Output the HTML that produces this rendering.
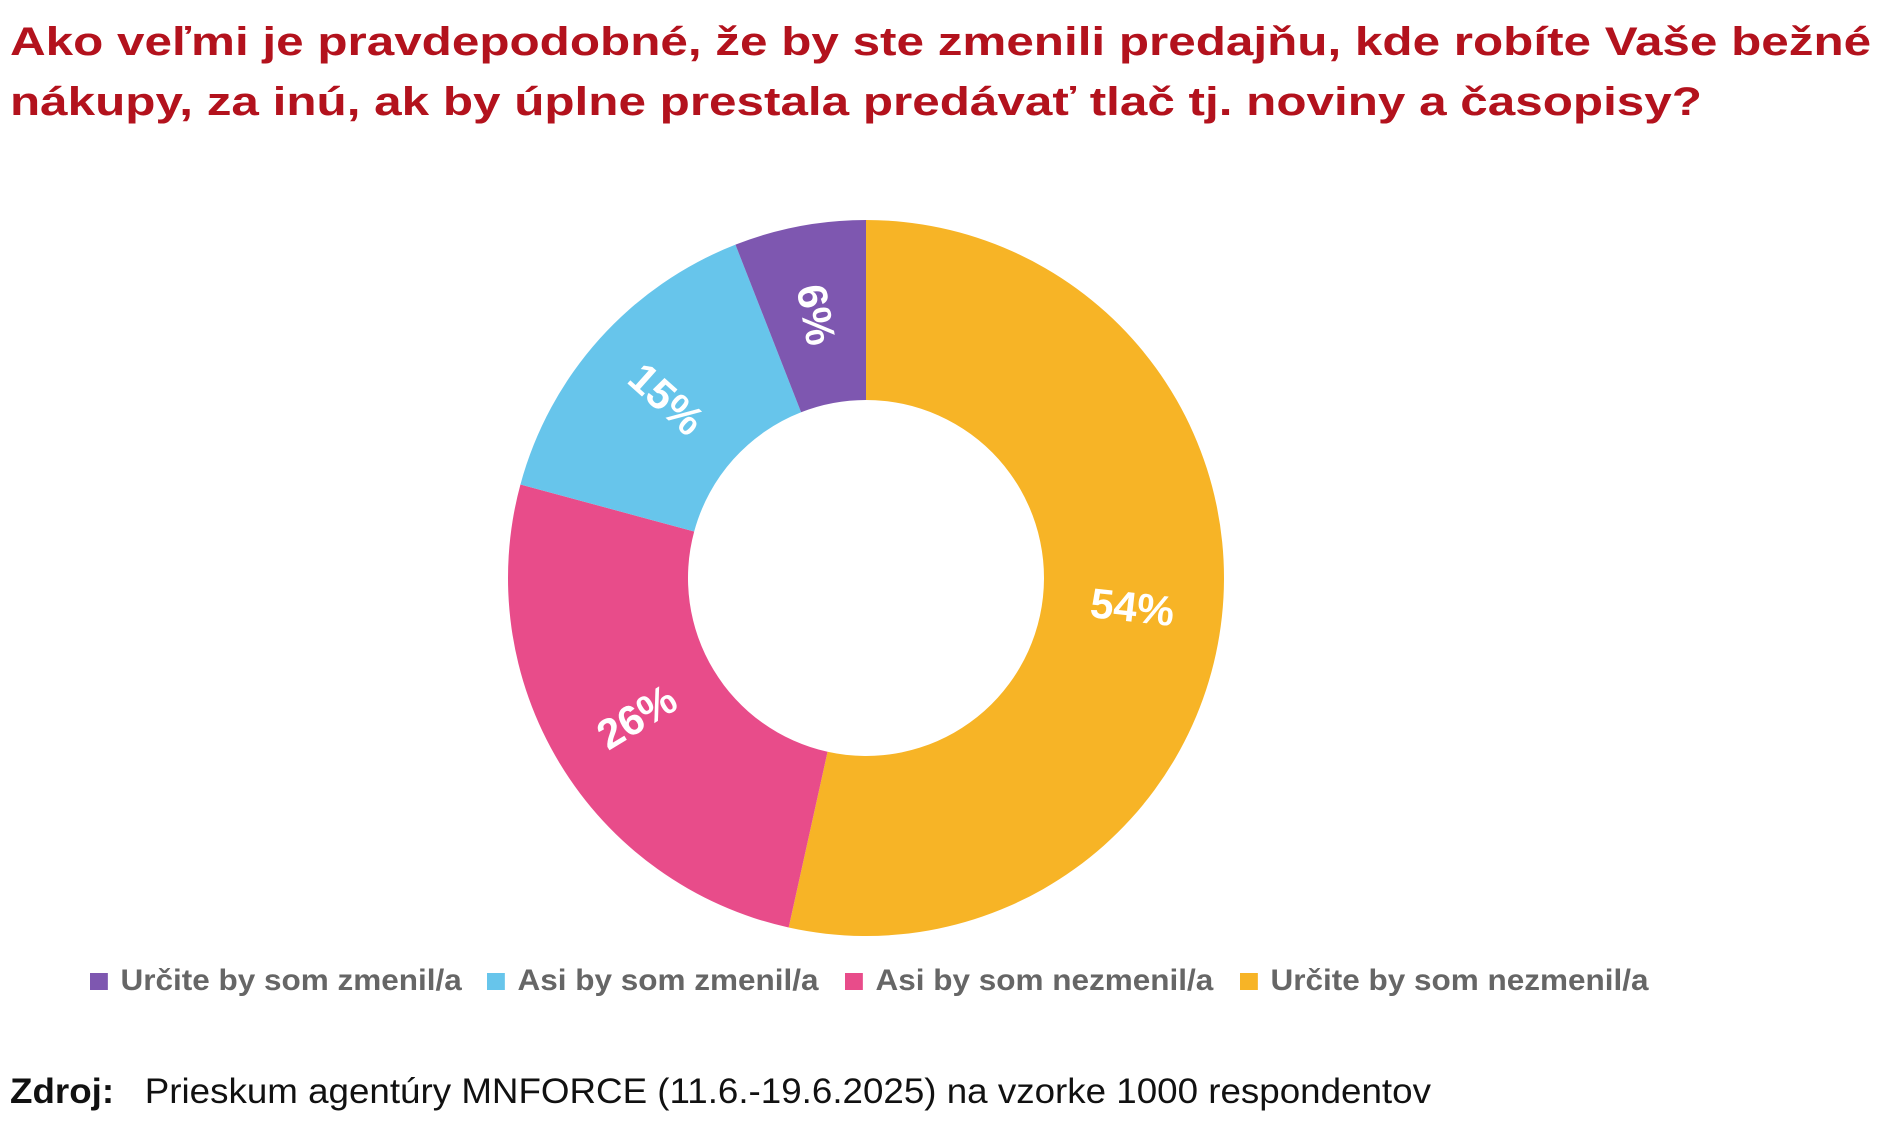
<!DOCTYPE html>
<html><head><meta charset="utf-8"><style>
body{margin:0;width:1898px;height:1124px;background:#fff;overflow:hidden;font-family:"Liberation Sans",sans-serif;position:relative}
.title{position:absolute;left:10px;top:12px;font-size:40px;font-weight:bold;color:#B3121D;line-height:60px;white-space:nowrap;transform:scaleX(1.235);transform-origin:0 0}
.legend{position:absolute;top:964px;left:0;font-size:30px;font-weight:bold;color:#666}
.li{position:absolute;white-space:nowrap;display:flex;align-items:center;transform:scaleX(1.05);transform-origin:0 50%}
.sw{width:17px;height:17px;margin-right:12px}
.src{position:absolute;left:10px;top:1072px;font-size:35px;color:#111;white-space:nowrap;transform:scaleX(1.05);transform-origin:0 0}
</style></head><body>
<div class="title">Ako veľmi je pravdepodobné, že by ste zmenili predajňu, kde robíte Vaše bežné<br>nákupy, za inú, ak by úplne prestala predávať tlač tj. noviny a časopisy?</div>
<svg id="chart" width="1898" height="1124" style="position:absolute;left:0;top:0"></svg>
<div class="legend">
<div class="li" style="left:90px"><div class="sw" style="background:#7E57B0"></div>Určite by som zmenil/a</div>
<div class="li" style="left:487px"><div class="sw" style="background:#67C5EB"></div>Asi by som zmenil/a</div>
<div class="li" style="left:845px"><div class="sw" style="background:#E84C8A"></div>Asi by som nezmenil/a</div>
<div class="li" style="left:1240px"><div class="sw" style="background:#F7B426"></div>Určite by som nezmenil/a</div>
</div>
<div class="src"><b>Zdroj:</b>&nbsp;&nbsp; Prieskum agentúry MNFORCE (11.6.-19.6.2025) na vzorke 1000 respondentov</div>
<script>
const categories=["Určite by som nezmenil/a","Asi by som nezmenil/a","Asi by som zmenil/a","Určite by som zmenil/a"];
const values=[54,26,15,6];
const labels=["54%","26%","15%","6%"];
const colors=["#F7B426","#E84C8A","#67C5EB","#7E57B0"];
const svg=document.getElementById('chart');
const NS="http://www.w3.org/2000/svg";
const cx=866,cy=578,R=358,r=178;
const total=values.reduce((a,b)=>a+b,0);
function pt(a,rad){return [cx+rad*Math.sin(a),cy-rad*Math.cos(a)];}
let start=0;
values.forEach((v,i)=>{
  const end=start+v/total*2*Math.PI;
  const large=(end-start)>Math.PI?1:0;
  const [x1,y1]=pt(start,R),[x2,y2]=pt(end,R),[x3,y3]=pt(end,r),[x4,y4]=pt(start,r);
  const p=document.createElementNS(NS,'path');
  p.setAttribute('d',`M${x1},${y1}A${R},${R} 0 ${large} 1 ${x2},${y2}L${x3},${y3}A${r},${r} 0 ${large} 0 ${x4},${y4}Z`);
  p.setAttribute('fill',colors[i]);
  
  
  svg.appendChild(p);
  const mid=(start+end)/2;
  const [lx,ly]=pt(mid,(R+r)/2);
  let rot=mid*180/Math.PI+90;
  rot=((rot%360)+360)%360; if(rot>90&&rot<270)rot-=180;
  const t=document.createElementNS(NS,'text');
  t.setAttribute('x',lx);t.setAttribute('y',ly);
  t.setAttribute('text-anchor','middle');t.setAttribute('dominant-baseline','central');
  t.setAttribute('fill','#fff');t.setAttribute('font-size','42');t.setAttribute('font-weight','bold');
  t.setAttribute('font-family','Liberation Sans, sans-serif');
  t.setAttribute('transform',`rotate(${rot} ${lx} ${ly})`);
  t.textContent=labels[i];
  
  
  svg.appendChild(t);
  start=end;
});
</script>
</body></html>
